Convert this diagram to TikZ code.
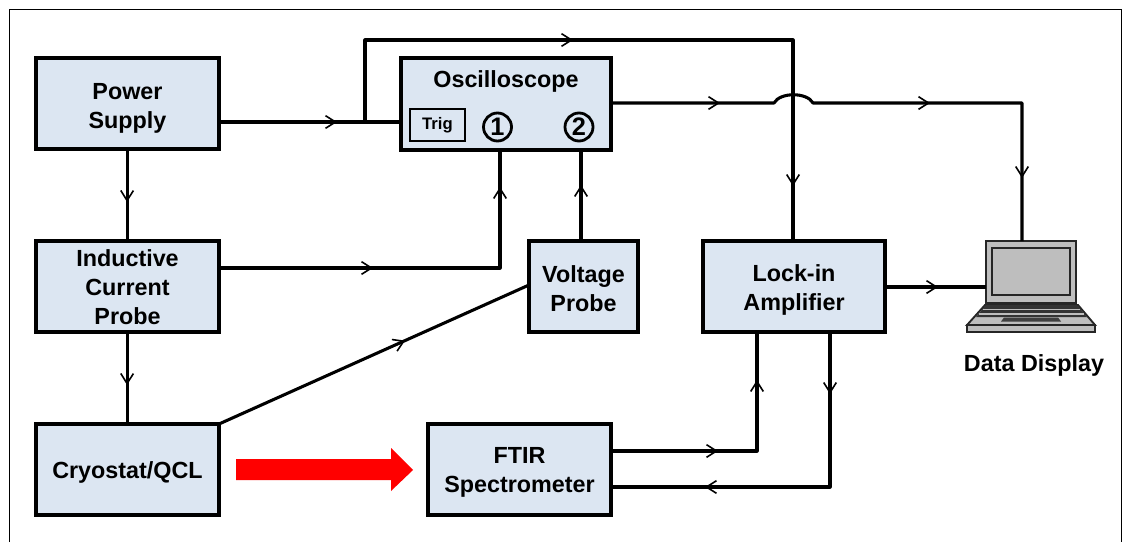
\documentclass[tikz,border=0pt]{standalone}
\usepackage{fontspec}
\setmainfont{Liberation Sans}
\usetikzlibrary{arrows.meta,calc}
\definecolor{boxfill}{RGB}{220,230,242}
\definecolor{lapgray}{RGB}{190,190,190}
\tikzset{
  every node/.style={inner sep=0pt,outer sep=0pt},
  blockbox/.style={draw=black,fill=boxfill,line width=2.3pt,anchor=north west},
  blocktext/.style={font=\fontsize{17.5}{21.8}\selectfont\bfseries,align=center,text=black},
  conn/.style={line width=2.3pt,draw=black,line join=round},
  barb/.style={line width=1.2pt,draw=black,-{Straight Barb[length=7.5pt,width=9.5pt]}},
  lap/.style={draw=black!85,fill=lapgray,line width=1.4pt},
}
\newcommand{\blk}[7][-2.2pt]{\node[blockbox,minimum width=#4*0.75pt,minimum height=#5*0.75pt] (#2) at (#3,#6) {};
  \node[blocktext,yshift=#1] (#2t) at (#2.center) {#7};}
\begin{document}
\begin{tikzpicture}[x=0.75pt,y=-0.75pt]
\useasboundingbox (0,0) rectangle (1123,542);
\fill[white] (0,0) rectangle (1123,542);
\draw[black,line width=1.3pt] (9.5,542) -- (9.5,9.5) -- (1121.5,9.5) -- (1121.5,542);
% blocks
\blk[-3.5pt]{psu}{36}{183}{91}{58}{Power\\Supply}
\blk[-0.7pt]{icp}{36}{183}{91}{241}{Inductive\\Current\\Probe}
\blk{cry}{36}{183}{91}{424}{Cryostat/QCL}
\blk[-1.8pt]{vpr}{529}{109}{91}{241}{Voltage\\Probe}
\blk[-2.5pt]{lia}{703}{182}{91}{241}{Lock-in\\Amplifier}
\blk{fti}{428}{183}{91}{424}{FTIR\\Spectrometer}
\node[blockbox,minimum width=210*0.75pt,minimum height=92*0.75pt] (osc) at (401,58) {};
\node[blocktext] (osct) at (506,81) {Oscilloscope};
\node[draw=black,line width=2pt,minimum width=55*0.75pt,minimum height=32*0.75pt,font=\fontsize{12.5}{14}\selectfont\bfseries,text=black] (trg) at (437.5,125) {Trig};
\node[draw=black,line width=2.1pt,circle,minimum size=28*0.75pt,font=\fontsize{19}{20}\selectfont\bfseries] (ch1) at (497.5,127) {1};
\node[draw=black,line width=2.1pt,circle,minimum size=28*0.75pt,font=\fontsize{19}{20}\selectfont\bfseries] (ch2) at (579,127) {2};
% junction coordinates
\coordinate (ps) at (219,122);
\coordinate (os) at (401,122);
\coordinate (j) at (365,122);
\coordinate (jt) at (365,40);
\coordinate (tr) at (793,40);
\coordinate (oe) at (611,103);
\coordinate (h1) at (774,103);
\coordinate (h2) at (813,103);
\coordinate (dr) at (1022,103);
% laptop
\draw[lap] (985,305) -- (1078,305) -- (1095,325) -- (967,325) -- cycle;
\draw[lap] (967,325) rectangle (1095,332);
\fill[black!80] (986,305) -- (1077,305) -- (1087,317) -- (976,317) -- cycle;
\draw[lapgray,line width=1.2pt] (983,309.5) -- (1080,309.5) (979,314) -- (1084,314);
\fill[black!75] (1004,317.5) -- (1058,317.5) -- (1061,321.5) -- (1001,321.5) -- cycle;
\node[lap,minimum width=90*0.75pt,minimum height=62*0.75pt,anchor=north west] (lpt) at (986,241) {};
\node[draw=black!85,fill=lapgray,line width=1.6pt,minimum width=78*0.75pt,minimum height=47*0.75pt,anchor=north west] (scr) at (992,248) {};
\node[font=\fontsize{17.5}{20}\selectfont\bfseries,text=black] (dsp) at (1034,365) {Data Display};
% connectors
\coordinate (a1) at (337,122);
\draw[barb] (ps) -- (a1);
\draw[conn] (ps) -- (os);
\coordinate (a2) at (573,40);
\draw[barb] (jt) -- (a2);
\draw[conn] (j) -- (jt) -- (tr) -- (lia.north -| tr);
\coordinate (a3) at (793,186);
\draw[barb] (tr) -- (a3);
\coordinate (a4) at (720,103);
\draw[barb] (oe) -- (a4);
\coordinate (a5) at (930,103);
\draw[barb] (h2) -- (a5);
\coordinate (a6) at (1022,178);
\draw[barb] (dr) -- (a6);
\draw[conn] (oe) -- (h1) .. controls (780,92) and (807,92) .. (h2) -- (dr) -- (lpt.north -| dr);
\coordinate (b1) at (127,202);
\draw[barb] (psu.south) -- (b1);
\draw[conn] (psu.south) -- (icp.north);
\coordinate (b2) at (127,385);
\draw[barb] (icp.south) -- (b2);
\draw[conn] (icp.south) -- (cry.north);
\coordinate (c0) at (219,268);
\coordinate (c1) at (373,268);
\coordinate (c2) at (500,268);
\coordinate (c3) at (500,187);
\draw[barb] (c0) -- (c1);
\draw[barb] (c2) -- (c3);
\draw[conn] (c0) -- (c2) -- (c2 |- osc.south);
\coordinate (d1) at (581,185);
\draw[barb] (d1 |- vpr.north) -- (d1);
\draw[conn] (d1 |- vpr.north) -- (d1 |- osc.south);
\coordinate (e0) at (529,285);
\coordinate (e1) at ($(cry.north east)!0.6!(e0)$);
\draw[barb] (cry.north east) -- (e1);
\draw[conn] (cry.north east) -- (e0);
\coordinate (f0) at (885,287);
\coordinate (f1) at (938,287);
\draw[barb] (f0) -- (f1);
\draw[conn] (f0) -- (lpt.west |- f1);
\coordinate (g0) at (611,451);
\coordinate (g1) at (718,451);
\coordinate (g2) at (757,451);
\coordinate (g3) at (757,380);
\draw[barb] (g0) -- (g1);
\draw[barb] (g2) -- (g3);
\draw[conn] (g0) -- (g2) -- (g3 |- lia.south);
\coordinate (k0) at (830,332);
\coordinate (k1) at (830,394);
\coordinate (k2) at (830,487);
\coordinate (k3) at (705,487);
\coordinate (k4) at (611,487);
\draw[barb] (k0) -- (k1);
\draw[barb] (k2) -- (k3);
\draw[conn] (k0) -- (k2) -- (k4);
% red arrow
\fill[red] (236,459) -- (391,459) -- (391,448) -- (413,470) -- (391,491) -- (391,480) -- (236,480) -- cycle;
\end{tikzpicture}
\end{document}
